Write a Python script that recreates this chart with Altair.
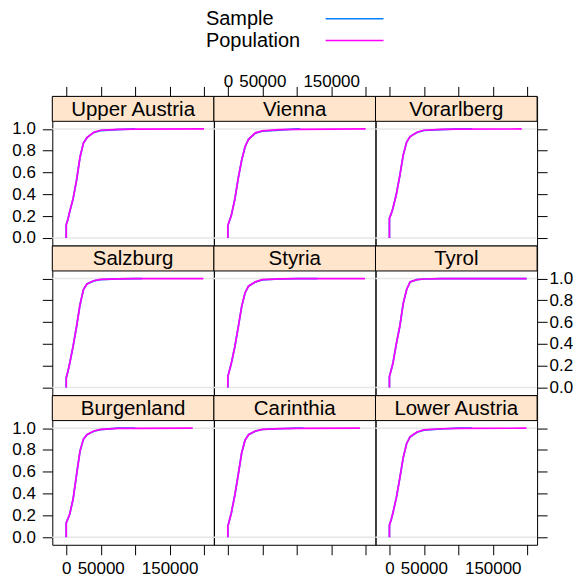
import altair as alt
import pandas as pd

# ---------------- data ----------------
regions = ["Upper Austria", "Vienna", "Vorarlberg",
           "Salzburg", "Styria", "Tyrol",
           "Burgenland", "Carinthia", "Lower Austria"]
series = ["Sample", "Population"]
series_colors = ["#0080ff", "#ff00ff"]

income_knots = [0, 0, 2500, 5000, 10000, 15000, 20000, 25000, 30000,
                40000, 50000, 75000, 100000]

cdf_pop_upper_austria = [0, 0.12, 0.17, 0.24, 0.36, 0.53, 0.74, 0.87, 0.92, 0.97, 0.988, 0.997, 0.999]
cdf_smp_upper_austria = [0, 0.12, 0.17, 0.24, 0.36, 0.53, 0.74, 0.87, 0.92, 0.968, 0.985, 0.994, 1.0]
cdf_pop_vienna = [0, 0.113, 0.16, 0.205, 0.35, 0.545, 0.71, 0.837, 0.905, 0.964, 0.982, 0.993, 0.997]
cdf_smp_vienna = [0, 0.113, 0.16, 0.205, 0.35, 0.545, 0.71, 0.837, 0.905, 0.962, 0.979, 0.99, 1.0]
cdf_pop_vorarlberg = [0, 0.18, 0.22, 0.27, 0.40, 0.57, 0.76, 0.88, 0.93, 0.97, 0.988, 0.996, 0.999]
cdf_smp_vorarlberg = [0, 0.18, 0.22, 0.27, 0.40, 0.57, 0.76, 0.88, 0.93, 0.968, 0.986, 0.994, 1.0]
cdf_pop_salzburg = [0, 0.09, 0.15, 0.22, 0.38, 0.56, 0.76, 0.90, 0.95, 0.98, 0.992, 0.998, 0.999]
cdf_smp_salzburg = [0, 0.09, 0.15, 0.22, 0.38, 0.56, 0.76, 0.90, 0.95, 0.979, 0.99, 0.997, 1.0]
cdf_pop_styria = [0, 0.10, 0.16, 0.22, 0.37, 0.55, 0.74, 0.87, 0.93, 0.97, 0.99, 0.997, 0.999]
cdf_smp_styria = [0, 0.10, 0.16, 0.22, 0.37, 0.55, 0.74, 0.87, 0.93, 0.969, 0.988, 0.996, 1.0]
cdf_pop_tyrol = [0, 0.101, 0.16, 0.22, 0.40, 0.56, 0.77, 0.90, 0.97, 0.99, 0.996, 0.999, 1.0]
cdf_smp_tyrol = [0, 0.101, 0.16, 0.22, 0.40, 0.56, 0.77, 0.90, 0.97, 0.99, 0.996, 0.999, 1.0]
cdf_pop_burgenland = [0, 0.131, 0.17, 0.21, 0.35, 0.575, 0.79, 0.90, 0.94, 0.975, 0.99, 0.998, 0.999]
cdf_smp_burgenland = [0, 0.131, 0.17, 0.21, 0.35, 0.575, 0.79, 0.90, 0.94, 0.972, 0.987, 1.0, 1.0]
cdf_pop_carinthia = [0, 0.10, 0.16, 0.22, 0.38, 0.57, 0.77, 0.89, 0.94, 0.975, 0.99, 0.997, 0.999]
cdf_smp_carinthia = [0, 0.10, 0.16, 0.22, 0.38, 0.57, 0.77, 0.89, 0.94, 0.973, 0.988, 0.995, 1.0]
cdf_pop_lower_austria = [0, 0.11, 0.16, 0.22, 0.36, 0.54, 0.73, 0.86, 0.92, 0.965, 0.985, 0.995, 0.998]
cdf_smp_lower_austria = [0, 0.11, 0.16, 0.22, 0.36, 0.54, 0.73, 0.86, 0.92, 0.963, 0.983, 0.993, 1.0]

pop_max_income = [200000, 200000, 192000, 199000, 199000, 199000, 183500, 191800, 199000]
smp_max_income = [94000, 105000, 120000, 110000, 130000, 199000, 80000, 110000, 120000]

pop_cdfs = [cdf_pop_upper_austria, cdf_pop_vienna, cdf_pop_vorarlberg,
            cdf_pop_salzburg, cdf_pop_styria, cdf_pop_tyrol,
            cdf_pop_burgenland, cdf_pop_carinthia, cdf_pop_lower_austria]
smp_cdfs = [cdf_smp_upper_austria, cdf_smp_vienna, cdf_smp_vorarlberg,
            cdf_smp_salzburg, cdf_smp_styria, cdf_smp_tyrol,
            cdf_smp_burgenland, cdf_smp_carinthia, cdf_smp_lower_austria]

x_ticks = [0, 50000, 100000, 150000, 200000]
y_ticks = [0, 0.2, 0.4, 0.6, 0.8, 1.0]
ref_levels = [0, 1]

rows = []
for r, pc, sc, pm, sm in zip(regions, pop_cdfs, smp_cdfs, pop_max_income, smp_max_income):
    for i, (xv, fv) in enumerate(zip(income_knots, sc)):
        rows.append({"region": r, "series": "Sample", "idx": i, "income": xv, "F": fv})
    rows.append({"region": r, "series": "Sample", "idx": len(sc), "income": sm, "F": 1.0})
    for i, (xv, fv) in enumerate(zip(income_knots, pc)):
        rows.append({"region": r, "series": "Population", "idx": i, "income": xv, "F": fv})
    rows.append({"region": r, "series": "Population", "idx": len(pc), "income": pm, "F": 1.0})
df = pd.DataFrame(rows)
ref_df = pd.DataFrame({"level": ref_levels})

# ---------------- styling ----------------
FONT = "Liberation Sans"
W, H = 162, 149.5
STRIP = 25
x_dom = [-20230, 214300]
y_dom = [-0.07, 1.299]
strip_fill = "#ffe5cc"
TICK_FS = 17

x_label_expr = "(datum.value == 100000 || datum.value == 200000) ? '' : format(datum.value, 'd')"


def axis_common(**kw):
    base = dict(domain=False, grid=False, ticks=True, tickSize=10, tickColor="black",
                tickWidth=1, labelFont=FONT, labelFontSize=TICK_FS, labelColor="black",
                title=None)
    base.update(kw)
    return alt.Axis(**base)


def cell(i, region):
    row, col = divmod(i, 3)
    if row == 0:
        xa = axis_common(orient="top", values=x_ticks, labels=(col == 1),
                         labelExpr=x_label_expr, labelBaseline="alphabetic", labelPadding=0)
    elif row == 2:
        xa = axis_common(orient="bottom", values=x_ticks, labels=(col != 1),
                         labelExpr=x_label_expr, labelPadding=6)
    else:
        xa = None
    if col == 0:
        ya = axis_common(orient="left", values=y_ticks, labels=(row != 1),
                         format=".1f", labelPadding=7)
    elif col == 2:
        ya = axis_common(orient="right", values=y_ticks, labels=(row == 1),
                         format=".1f", labelPadding=2)
    else:
        ya = None

    xenc = alt.X("income:Q", scale=alt.Scale(domain=x_dom, nice=False, zero=False), axis=xa)
    yenc = alt.Y("F:Q", scale=alt.Scale(domain=y_dom, nice=False, zero=False), axis=ya)
    yref = alt.Y("level:Q", scale=alt.Scale(domain=y_dom, nice=False, zero=False), axis=ya)

    base = alt.Chart(df).transform_filter(alt.datum.region == region)
    refs = alt.Chart(ref_df).mark_rule(color="#e6e6e6", strokeWidth=1.5).encode(y=yref)
    smp = base.transform_filter(alt.datum.series == "Sample").mark_line(
        color=series_colors[0], strokeWidth=1.7).encode(x=xenc, y=yenc, order="idx:Q")
    pop = base.transform_filter(alt.datum.series == "Population").mark_line(
        color=series_colors[1], strokeWidth=1.7).encode(x=xenc, y=yenc, order="idx:Q")

    lab_df = pd.DataFrame({"region": [region]})
    strip = alt.Chart(lab_df).mark_rect(fill=strip_fill, stroke="black", strokeWidth=1).encode(
        x=alt.value(0), x2=alt.value(W), y=alt.value(0), y2=alt.value(STRIP))
    strip_txt = alt.Chart(lab_df).mark_text(font=FONT, fontSize=20.5, color="black",
                                            baseline="middle", align="center").encode(
        x=alt.value(W / 2), y=alt.value(STRIP / 2 + 1), text="region:N")
    return alt.layer(refs, smp, pop, strip, strip_txt).properties(width=W, height=H)


cells = [cell(i, r) for i, r in enumerate(regions)]
grid = alt.concat(*cells, columns=3, spacing=0, bounds="flush")

legend_df = pd.DataFrame({"series": series})
leg_y = alt.Y("series:N", sort=series, axis=None,
              scale=alt.Scale(type="point", domain=series, padding=0.364))
leg_text = alt.Chart(legend_df).mark_text(font=FONT, fontSize=20, color="black",
                                          align="left", baseline="middle").encode(
    x=alt.value(154), y=leg_y, text="series:N")
leg_rule = alt.Chart(legend_df).mark_rule(strokeWidth=1.5).encode(
    x=alt.value(274), x2=alt.value(332), y=leg_y,
    color=alt.Color("series:N", scale=alt.Scale(domain=series, range=series_colors), legend=None))
legend = alt.layer(leg_text, leg_rule).properties(width=3 * W, height=38,
                                                  view=alt.ViewBackground(stroke=None))

chart = alt.vconcat(legend, grid, spacing=47.9, bounds="flush").properties(
    padding={"left": 2.4, "top": 0, "right": 0, "bottom": 0},
    background="white",
).configure_view(stroke="black", strokeWidth=1)

chart.save("out.html", embed_options={"renderer": "svg", "actions": False})
